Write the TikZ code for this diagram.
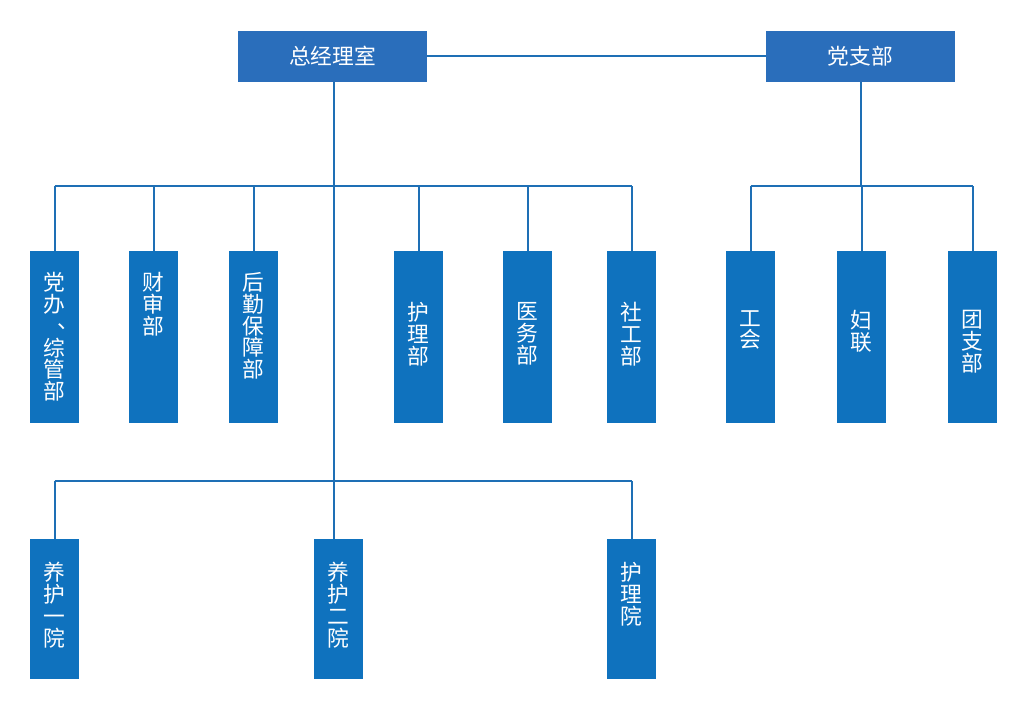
\documentclass[tikz,border=0pt]{standalone}
\usepackage{fontspec}
\newfontfamily\cjk{Noto Sans CJK SC}
\definecolor{topblue}{HTML}{2A6EBB}
\definecolor{boxblue}{HTML}{0F72BE}
\definecolor{lineblue}{HTML}{1E6FB5}
\newcommand{\dunhao}{\makebox[1em][l]{\hspace{0.65em}\raisebox{0.25em}[0pt][0pt]{、}}\vphantom{党}}
\begin{document}
\begin{tikzpicture}[x=0.75pt,y=-0.75pt,
  topbox/.style={fill=topblue,draw=none,minimum width=189*0.75pt,minimum height=51*0.75pt,inner sep=0pt,text=white,font=\cjk\fontsize{16.3}{16.3}\selectfont},
  vbox/.style={fill=boxblue,draw=none,minimum width=49*0.75pt,minimum height=172*0.75pt,inner sep=0pt},
  lbox/.style={fill=boxblue,draw=none,minimum width=49*0.75pt,minimum height=140*0.75pt,inner sep=0pt},
  vtext/.style={anchor=north,inner sep=0pt,text=white,align=center,font=\cjk\fontsize{16.3}{16.4}\selectfont},
  conn/.style={draw=lineblue,line width=1.5pt}]
\useasboundingbox (0,0) rectangle (1016,724);
% top boxes
\node[topbox] (zjl) at (332.5,56.5) {总经理室};
\node[topbox] (dzb) at (860.5,56.5) {党支部};
% row 1 boxes
\node[vbox] (b1) at (54.5,337) {};
\node[vbox] (b2) at (153.5,337) {};
\node[vbox] (b3) at (253.5,337) {};
\node[vbox] (b4) at (418.5,337) {};
\node[vbox] (b5) at (527.5,337) {};
\node[vbox] (b6) at (631.5,337) {};
\node[vbox] (b7) at (750.5,337) {};
\node[vbox] (b8) at (861.5,337) {};
\node[vbox] (b9) at (972.5,337) {};
% row 2 boxes
\node[lbox] (c1) at (54.5,609) {};
\node[lbox] (c2) at (338.5,609) {};
\node[lbox] (c3) at (631.5,609) {};
% texts
\node[vtext] (t1) at (54.5,272) {党\\办\\\dunhao\\综\\管\\部};
\node[vtext] (t2) at (153.5,272) {财\\审\\部};
\node[vtext] (t3) at (253.5,272) {后\\勤\\保\\障\\部};
\node[vtext] (t4) at (418.5,302) {护\\理\\部};
\node[vtext] (t5) at (527.5,302) {医\\务\\部};
\node[vtext] (t6) at (631.5,302) {社\\工\\部};
\node[vtext] (t7) at (750.5,310) {工\\会};
\node[vtext] (t8) at (861.5,310) {妇\\联};
\node[vtext] (t9) at (972.5,310) {团\\支\\部};
\node[vtext] (u1) at (54.5,562) {养\\护\\一\\院};
\node[vtext] (u2) at (338.5,562) {养\\护\\二\\院};
\node[vtext] (u3) at (631.5,562) {护\\理\\院};
% bus coordinates
\coordinate (bus1) at (334,186);
\coordinate (bus2) at (334,481);
\coordinate (bus3) at (861,186);
% connectors
\draw[conn] (zjl.east) -- (dzb.west);
\draw[conn] (zjl.south -| bus1) -- (bus1) -- (bus2) -- (bus2 |- c2.north);
\draw[conn] (bus1 -| b1.north) -- (bus1 -| b6.north);
\foreach \n in {b1,b2,b3,b4,b5,b6} \draw[conn] (\n.north) -- (\n.north |- bus1);
\draw[conn] (bus2 -| c1.north) -- (bus2 -| c3.north);
\foreach \n in {c1,c3} \draw[conn] (\n.north) -- (\n.north |- bus2);
\draw[conn] (dzb.south -| bus3) -- (bus3);
\draw[conn] (bus3 -| b7.north) -- (bus3 -| b9.north);
\foreach \n in {b7,b8,b9} \draw[conn] (\n.north) -- (\n.north |- bus3);
\end{tikzpicture}
\end{document}
